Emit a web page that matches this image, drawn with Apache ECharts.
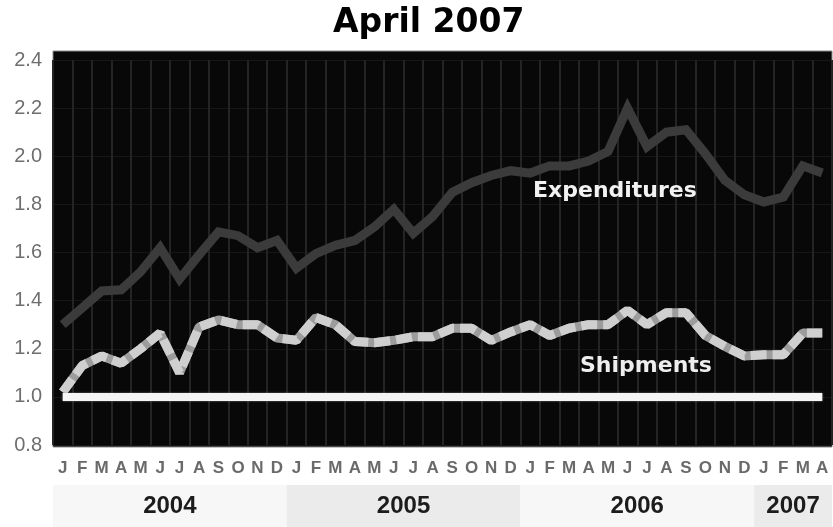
<!DOCTYPE html>
<html>
<head>
<meta charset="utf-8">
<script src="https://cdn.jsdelivr.net/npm/echarts@6/dist/echarts.min.js"></script>
<style>
html,body{margin:0;padding:0;background:#fff;}
#c{width:833px;height:527px;}
</style>
</head>
<body>
<div id="c"></div>
<script>
var months = ['J','F','M','A','M','J','J','A','S','O','N','D',
              'J','F','M','A','M','J','J','A','S','O','N','D',
              'J','F','M','A','M','J','J','A','S','O','N','D',
              'J','F','M','A'];
var expenditures = [1.30,1.37,1.44,1.445,1.52,1.62,1.49,1.59,1.686,1.67,1.62,1.65,
                    1.535,1.595,1.63,1.65,1.706,1.78,1.68,1.75,1.85,1.89,1.92,1.94,
                    1.93,1.96,1.96,1.98,2.02,2.20,2.04,2.10,2.11,2.01,1.90,1.84,
                    1.81,1.83,1.96,1.93];
var shipments = [1.02,1.13,1.17,1.14,1.20,1.265,1.10,1.29,1.32,1.30,1.30,1.245,
                 1.235,1.33,1.30,1.23,1.225,1.235,1.25,1.25,1.285,1.285,1.235,1.27,
                 1.30,1.255,1.285,1.30,1.30,1.36,1.30,1.35,1.35,1.255,1.21,1.17,
                 1.175,1.175,1.265,1.265];
var baselineValue = 1.0;
var yTicks = [0.8,1.0,1.2,1.4,1.6,1.8,2.0,2.2,2.4];
var years = ['2004','2005','2006','2007'];
var yearStart = [0,12,24,36];
var yearEnd = [12,24,36,40];

var bandColors = ['#f7f7f7','#ebebeb'];

var chart = echarts.init(document.getElementById('c'), null, {renderer:'canvas'});
chart.setOption({
  animation:false,
  backgroundColor:'#ffffff',
  title:{
    text:'April 2007', left:328, top:2,
    textStyle:{fontFamily:'DejaVu Sans', fontWeight:'bold', fontSize:33, color:'#000'}
  },
  graphic:[
    {type:'rect', z:-10, silent:true,
     shape:{x:53, y:51, width:779, height:396},
     style:{fill:'#080808', stroke:'#8a8a8a', lineWidth:1}},
    {type:'text', z:100, left:533, top:180,
     style:{text:'Expenditures', fill:'#f2f2f2', font:'bold 22px "DejaVu Sans"'}},
    {type:'text', z:100, left:580, top:355,
     style:{text:'Shipments', fill:'#eeeeee', font:'bold 22px "DejaVu Sans"'}}
  ],
  grid:[
    {left:53, right:1, top:60, bottom:82},
    {left:53, right:1, top:485, bottom:0}
  ],
  xAxis:[
    {type:'category', gridIndex:0, data:months, boundaryGap:true,
     axisLine:{show:false}, axisTick:{show:false},
     axisLabel:{interval:0, margin:15, color:'#6a6a6a', fontSize:17, fontWeight:'bold', fontFamily:'Liberation Sans'},
     splitLine:{show:true, interval:0, lineStyle:{color:'#242424', width:2}}},
    {type:'value', gridIndex:1, min:0, max:40, show:false}
  ],
  yAxis:[
    {type:'value', gridIndex:0, min:yTicks[0], max:yTicks[yTicks.length-1], interval:0.2,
     axisLine:{show:false}, axisTick:{show:false},
     axisLabel:{margin:11, color:'#6e6e6e', fontSize:20, fontFamily:'Liberation Sans',
       formatter:function(v){return v.toFixed(1);}},
     splitLine:{show:true, lineStyle:{color:'#161616', width:1}}},
    {type:'value', gridIndex:1, min:0, max:1, show:false}
  ],
  series:[
    {type:'line', name:'Expenditures', xAxisIndex:0, yAxisIndex:0, data:expenditures,
     symbol:'none', lineStyle:{color:'#3b3b3b', width:9, join:'miter'}, z:3},
    {type:'line', name:'ShipmentsBase', xAxisIndex:0, yAxisIndex:0, data:shipments,
     symbol:'none', lineStyle:{color:'#9c9c9c', width:9}, z:3,
     markLine:{silent:true, symbol:'none', label:{show:false},
       lineStyle:{color:'#f5f5f5', width:8, type:'solid', shadowColor:'#888', shadowBlur:2},
       data:[[{coord:[0, baselineValue]},{coord:[months.length-1, baselineValue]}]]}},
    {type:'line', name:'Shipments', xAxisIndex:0, yAxisIndex:0, data:shipments,
     symbol:'none', lineStyle:{color:'#cfcfcf', width:9, type:[16,6]}, z:4},
    {type:'custom', xAxisIndex:1, yAxisIndex:1, silent:true,
     data:years.map(function(y,i){return [yearStart[i], yearEnd[i], i];}),
     renderItem:function(params, api){
       var s = api.coord([api.value(0), 1]);
       var e = api.coord([api.value(1), 0]);
       var idx = api.value(2);
       return {type:'group', children:[
         {type:'rect', shape:{x:s[0], y:s[1], width:e[0]-s[0], height:e[1]-s[1]},
          style:{fill:bandColors[idx%2]}},
         {type:'text', style:{text:years[idx], x:(s[0]+e[0])/2, y:(s[1]+e[1])/2,
           align:'center', verticalAlign:'middle', font:'bold 24px "Liberation Sans"', fill:'#1c1c1c'}}
       ]};
     }}
  ]
});
</script>
</body>
</html>
